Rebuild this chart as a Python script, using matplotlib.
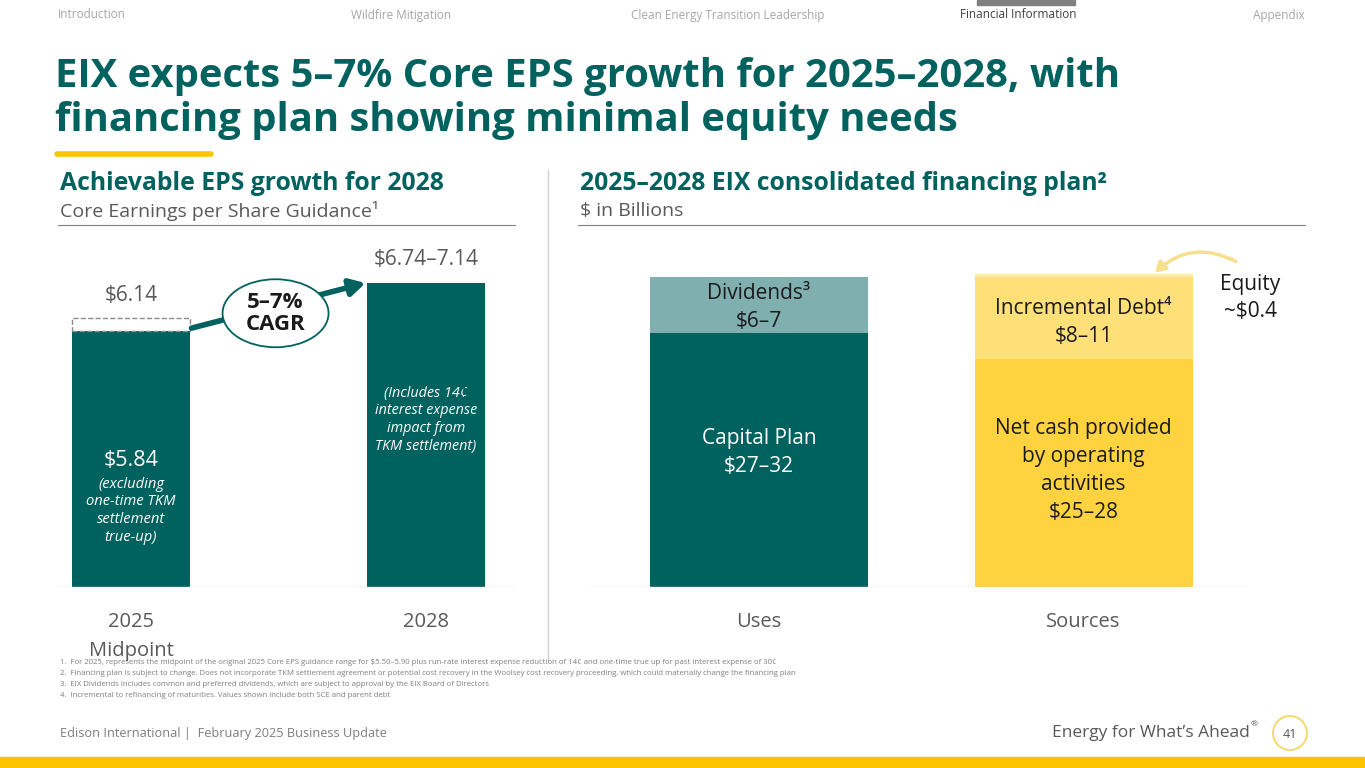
import numpy as np
import matplotlib
matplotlib.use("Agg")
from matplotlib import pyplot as plt
from matplotlib.patches import Ellipse, Circle

plt.rcParams['font.family'] = ['Open Sans', 'DejaVu Sans']

# ---------------- data ----------------
eps_years = ['2025\nMidpoint', '2028']
eps_core_2025 = 5.84          # excluding one-time TKM true-up
eps_mid_2025 = 6.14           # midpoint incl. true-up
eps_range_2028 = [6.74, 7.14]

fin_groups = ['Uses', 'Sources']
capital_plan = [27, 32]
dividends = [6, 7]
net_cash = [25, 28]
incr_debt = [8, 11]
equity = 0.4

nav_items = ['Introduction', 'Wildfire Mitigation', 'Clean Energy Transition Leadership',
             'Financial Information', 'Appendix']
nav_x = [58, 401, 728, 1018, 1305]

footnotes = [
    "1.  For 2025, represents the midpoint of the original 2025 Core EPS guidance range for $5.50\u20135.90 plus run-rate interest expense reduction of 14\u00a2 and one-time true up for past interest expense of 30\u00a2",
    "2.  Financing plan is subject to change. Does not incorporate TKM settlement agreement or potential cost recovery in the Woolsey cost recovery proceeding, which could materially change the financing plan",
    "3.  EIX Dividends includes common and preferred dividends, which are subject to approval by the EIX Board of Directors",
    "4.  Incremental to refinancing of maturities. Values shown include both SCE and parent debt",
]

TEAL = '#00625F'
TEAL_LIGHT = '#7FB0AF'
YELLOW = '#FFD23F'
YELLOW_LIGHT = '#FFDF78'
YELLOW_PALE = '#FFEBA8'
GRAY = '#595959'

W, H = 1365, 768
fig = plt.figure(figsize=(W / 100, H / 100), dpi=100)

# background axes in pixel coordinates for slide furniture
bg = fig.add_axes([0, 0, 1, 1])
bg.set_xlim(0, W)
bg.set_ylim(H, 0)
bg.axis('off')


def ax_rect(x0, x1, y_top, y_bot):
    return [x0 / W, 1 - y_bot / H, (x1 - x0) / W, (y_bot - y_top) / H]


# nav bar
for i, (name, x) in enumerate(zip(nav_items, nav_x)):
    active = name == 'Financial Information'
    ha = 'left' if i == 0 else ('right' if i == len(nav_items) - 1 else 'center')
    bg.text(x, 15, name, fontsize=8.5, color='#404040' if active else '#A6A6A6', ha=ha, va='center')
bg.add_patch(plt.Rectangle((977, 0), 98, 5, color='#7F7F7F'))

# title
bg.text(55, 77, "EIX expects 5\u20137% Core EPS growth for 2025\u20132028, with", fontsize=28.8,
        fontweight='bold', color=TEAL, va='center')
bg.text(55, 121, "financing plan showing minimal equity needs", fontsize=28.8,
        fontweight='bold', color=TEAL, va='center')
bg.plot([57, 211], [154, 154], color='#F7C600', lw=4, solid_capstyle='round')

# section headers
bg.text(60, 184, "Achievable EPS growth for 2028", fontsize=17.8, fontweight='bold', color=TEAL, va='center')
bg.text(60, 211, "Core Earnings per Share Guidance\u00b9", fontsize=14, color=GRAY, va='center')
bg.plot([58, 515], [225, 225], color='#808080', lw=0.8)
bg.text(580, 184, "2025\u20132028 EIX consolidated financing plan\u00b2", fontsize=17.8, fontweight='bold',
        color=TEAL, va='center')
bg.text(580, 211, "$ in Billions", fontsize=14, color=GRAY, va='center')
bg.plot([578, 1305], [225, 225], color='#808080', lw=0.8)
bg.plot([548, 548], [170, 660], color='#D0D0D0', lw=1)

# footnotes and footer
for i, note in enumerate(footnotes):
    bg.text(60, 662 + i * 11.3, note, fontsize=5.6, color='#7F7F7F', va='center')
bg.text(60, 733, "Edison International |  February 2025 Business Update", fontsize=9.2,
        color='#7F7F7F', va='center')
bg.text(1250, 733, "Energy for What\u2019s Ahead", fontsize=12.5, color='#595959', va='center', ha='right')
bg.text(1251, 725, "\u00ae", fontsize=6, color='#595959', va='center', ha='left')
bg.add_patch(Circle((1290, 733), 17, fill=False, edgecolor='#F5D55A', lw=1.2))
bg.text(1290, 734, "41", fontsize=9, color='#595959', ha='center', va='center')
bg.add_patch(plt.Rectangle((0, 757), W, 11, color='#FFC400'))

# ---------------- left chart: EPS ----------------
ax1 = fig.add_axes(ax_rect(58, 515, 230, 587))
ax1.patch.set_alpha(0)
px_per_unit = 43.8
ax1.set_ylim(0, 357 / px_per_unit)
ax1.set_xlim(-73 / 295, 1 + 89 / 295)
bw = 118 / 295
x = np.arange(len(eps_years))
eps_2028_mid = np.mean(eps_range_2028)
ax1.bar(x, [eps_core_2025, eps_2028_mid], width=bw, color=TEAL)
ax1.bar(0, eps_mid_2025 - eps_core_2025, bottom=eps_core_2025, width=bw, fill=False,
        edgecolor='#8C8C8C', linestyle='--', lw=1)
ax1.axhline(0, color='#D9D9D9', lw=1)
for s in ax1.spines.values():
    s.set_visible(False)
ax1.set_xticks([])
ax1.set_yticks([])
for xi, lab in zip(x, eps_years):
    ax1.text(xi, -0.58, lab, ha='center', va='top', fontsize=14.5, color=GRAY, linespacing=1.6)

ax1.text(0, eps_mid_2025 + 0.52, f"${eps_mid_2025:.2f}", ha='center', va='center', fontsize=15, color=GRAY)
ax1.text(1, eps_2028_mid + 0.53,
         f"${eps_range_2028[0]:.2f}\u2013{eps_range_2028[1]:.2f}", ha='center', va='center',
         fontsize=15, color=GRAY)
ax1.text(0, 2.88, f"${eps_core_2025:.2f}", ha='center', va='center', fontsize=15.5, color='white')
ax1.text(0, 1.74, "(excluding\none-time TKM\nsettlement\ntrue-up)", ha='center', va='center',
         fontsize=10.6, color='white', style='italic', linespacing=1.25)
ax1.text(1, 3.82, "(Includes 14\u00a2\ninterest expense\nimpact from\nTKM settlement)", ha='center',
         va='center', fontsize=10.4, color='white', style='italic', linespacing=1.25)

# CAGR arrow + bubble
ax1.annotate("", xy=(1 - bw / 2 - 0.005, eps_2028_mid), xytext=(bw / 2 + 0.005, eps_core_2025 + 0.07),
             arrowprops=dict(arrowstyle='-|>,head_length=0.9,head_width=0.5', color=TEAL, lw=4,
                             shrinkA=0, shrinkB=0))
ax1.add_patch(Ellipse((0.49, 6.25), 106 / 295, 68 / px_per_unit, facecolor='white',
                      edgecolor=TEAL, lw=1.3, zorder=5))
ax1.text(0.49, 6.24, "5\u20137%\nCAGR", ha='center', va='center', fontsize=16, fontweight='bold',
         color='#1A1A1A', zorder=6, linespacing=1.1)

# ---------------- right chart: financing plan ----------------
ax2 = fig.add_axes(ax_rect(590, 1245, 230, 587))
ax2.patch.set_alpha(0)
px2 = 8.61
ax2.set_ylim(0, 357 / px2)
ax2.set_xlim(-169 / 324.5, 1 + 161.5 / 324.5)
bw2 = 218 / 324.5
cap_mid = np.mean(capital_plan)
div_mid = np.mean(dividends)
cash_mid = np.mean(net_cash)
debt_mid = np.mean(incr_debt)
ax2.bar(0, cap_mid, width=bw2, color=TEAL)
ax2.bar(0, div_mid, bottom=cap_mid, width=bw2, color=TEAL_LIGHT)
ax2.bar(1, cash_mid, width=bw2, color=YELLOW)
ax2.bar(1, debt_mid, bottom=cash_mid, width=bw2, color=YELLOW_LIGHT)
ax2.bar(1, equity, bottom=cash_mid + debt_mid, width=bw2, color=YELLOW_PALE)
ax2.axhline(0, color='#D9D9D9', lw=1)
for s in ax2.spines.values():
    s.set_visible(False)
ax2.set_xticks([])
ax2.set_yticks([])
for xi, lab in enumerate(fin_groups):
    ax2.text(xi, -2.9, lab, ha='center', va='top', fontsize=14.5, color=GRAY)

lab_kw = dict(ha='center', va='center', fontsize=15, linespacing=1.45)
ax2.text(0, cap_mid + div_mid / 2 - 0.3, f"Dividends\u00b3\n${dividends[0]}\u2013{dividends[1]}",
         color='#1A1A1A', **lab_kw)
ax2.text(0, cap_mid / 2 + 0.9, f"Capital Plan\n${capital_plan[0]}\u2013{capital_plan[1]}",
         color='white', **lab_kw)
ax2.text(1, cash_mid + debt_mid / 2 - 0.5, f"Incremental Debt\u2074\n${incr_debt[0]}\u2013{incr_debt[1]}",
         color='#1A1A1A', **lab_kw)
ax2.text(1, cash_mid / 2 + 0.3,
         f"Net cash provided\nby operating\nactivities\n${net_cash[0]}\u2013{net_cash[1]}",
         color='#1A1A1A', **lab_kw)
ax2.text(1.515, 33.6, f"Equity\n~${equity}", color='#1A1A1A', **dict(lab_kw, linespacing=1.35))
ax2.annotate("", xy=(1.22, cash_mid + debt_mid + equity + 0.1), xytext=(1.47, 37.8),
             arrowprops=dict(arrowstyle='-|>,head_length=0.6,head_width=0.35', color='#F8DF8C', lw=2.5,
                             connectionstyle='arc3,rad=0.35', shrinkA=0, shrinkB=0),
             annotation_clip=False)

fig.savefig("out.png", dpi=100)
